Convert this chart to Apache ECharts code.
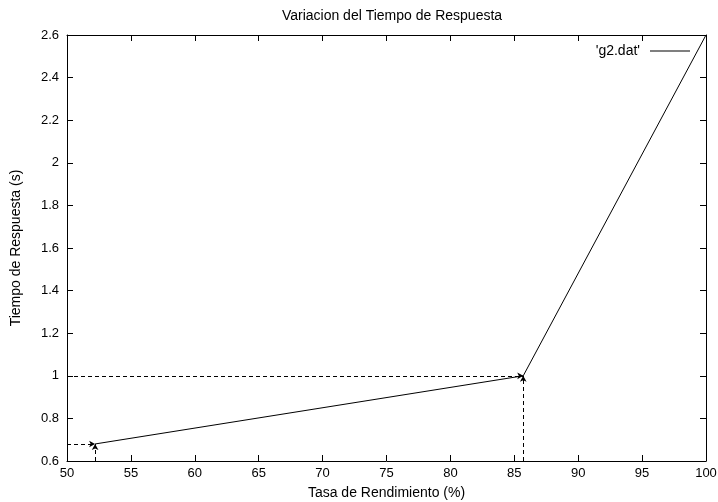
<!DOCTYPE html>
<html>
<head>
<meta charset="utf-8">
<script src="https://cdn.jsdelivr.net/npm/echarts@6/dist/echarts.min.js"></script>
<style>
  html, body { margin: 0; padding: 0; background: #fff; }
  #chart { width: 718px; height: 502px; }
</style>
</head>
<body>
<div id="chart"></div>
<script>
// datos
const tasa = [52.2, 85.7, 100];
const tiempo = [0.68, 1.0, 2.6];
const serieNombre = "'g2.dat'";

const fnt = 'Liberation Sans, Arial, sans-serif';

var chartDom = document.getElementById('chart');
var myChart = echarts.init(chartDom);

// flechas punteadas hacia cada punto medido (menos el ultimo)
let flechas = [];
for (let i = 0; i < tasa.length - 1; i++) {
  flechas.push([{ coord: [50, tiempo[i]] }, { coord: [tasa[i], tiempo[i]] }]);
  flechas.push([{ coord: [tasa[i], 0.6] }, { coord: [tasa[i], tiempo[i]] }]);
}

const ejeX = {
  type: 'value', min: 50, max: 100, interval: 5,
  axisLine: { lineStyle: { color: '#000', width: 1 } },
  axisTick: { inside: true, length: 6, lineStyle: { color: '#000' } },
  splitLine: { show: false }
};
const ejeY = {
  type: 'value', min: 0.6, max: 2.6, interval: 0.2,
  axisLine: { lineStyle: { color: '#000', width: 1 } },
  axisTick: { inside: true, length: 6, lineStyle: { color: '#000' } },
  splitLine: { show: false }
};

var option = {
  backgroundColor: '#fff',
  animation: false,
  textStyle: { fontFamily: fnt },
  title: {
    text: 'Variacion del Tiempo de Respuesta',
    left: 387, top: 4, textAlign: 'center',
    textStyle: { fontSize: 14, fontWeight: 'normal', color: '#000', fontFamily: fnt }
  },
  legend: {
    right: 23, top: 39,
    align: 'right',
    itemWidth: 40, itemHeight: 14,
    itemGap: 0,
    textStyle: { fontSize: 14, color: '#000', fontFamily: fnt, padding: [0, 5, 0, 0] },
    data: [{ name: serieNombre, icon: 'path://M0,6L40,6L40,7L0,7Z' }]
  },
  grid: { left: 67, right: 12, top: 35, bottom: 41, containLabel: false, outerBoundsMode: 'none' },
  xAxis: [
    Object.assign({}, ejeX, {
      position: 'bottom',
      name: 'Tasa de Rendimiento (%)', nameLocation: 'middle', nameGap: 25,
      nameTextStyle: { fontSize: 14, color: '#000', fontFamily: fnt },
      axisLabel: { color: '#000', fontSize: 13, margin: 6, fontFamily: fnt }
    }),
    Object.assign({}, ejeX, { position: 'top', axisLabel: { show: false } })
  ],
  yAxis: [
    Object.assign({}, ejeY, {
      position: 'left',
      name: 'Tiempo de Respuesta (s)', nameLocation: 'middle', nameGap: 44,
      nameTextStyle: { fontSize: 14, color: '#000', fontFamily: fnt },
      axisLabel: { color: '#000', fontSize: 13, margin: 8, fontFamily: fnt,
        formatter: v => String(Math.round(v * 10) / 10) }
    }),
    Object.assign({}, ejeY, { position: 'right', axisLabel: { show: false } })
  ],
  series: [
    {
      name: serieNombre,
      type: 'line',
      data: tasa.map((x, i) => [x, tiempo[i]]),
      showSymbol: false,
      symbol: 'none',
      color: '#000',
      lineStyle: { color: '#000', width: 1 },
      markLine: {
        silent: true,
        symbol: ['none', 'arrow'],
        symbolSize: [5, 6],
        label: { show: false },
        lineStyle: { color: '#000', type: [4, 3], width: 1 },
        data: flechas
      }
    }
  ]
};

option && myChart.setOption(option);
</script>
</body>
</html>
